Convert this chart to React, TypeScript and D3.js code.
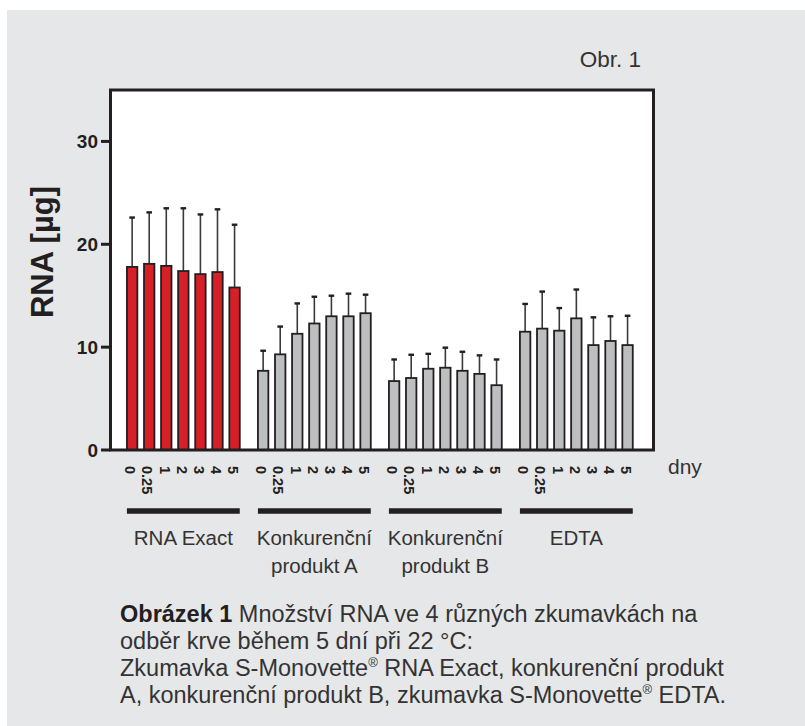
import React from "react";
import * as d3 from "d3";

const groups = ["RNA Exact", "Konkurenční produkt A", "Konkurenční produkt B", "EDTA"];
const groupLabelLines = [["RNA Exact"], ["Konkurenční", "produkt A"], ["Konkurenční", "produkt B"], ["EDTA"]];
const days = ["0", "0.25", "1", "2", "3", "4", "5"];

const rnaExactMean = [17.8, 18.1, 17.9, 17.4, 17.1, 17.3, 15.8];
const rnaExactSd = [4.8, 5.0, 5.6, 6.1, 5.8, 6.1, 6.1];
const prodAMean = [7.7, 9.3, 11.3, 12.3, 13.0, 13.0, 13.3];
const prodASd = [1.95, 2.7, 2.95, 2.6, 2.0, 2.2, 1.8];
const prodBMean = [6.7, 7.0, 7.9, 8.0, 7.7, 7.4, 6.3];
const prodBSd = [2.1, 2.26, 1.45, 1.95, 1.85, 1.8, 2.5];
const edtaMean = [11.5, 11.8, 11.6, 12.8, 10.2, 10.6, 10.2];
const edtaSd = [2.7, 3.6, 2.2, 2.8, 2.7, 2.4, 2.85];

const yTicks = [0, 10, 20, 30];

const means = [rnaExactMean, prodAMean, prodBMean, edtaMean];
const sds = [rnaExactSd, prodASd, prodBSd, edtaSd];

const W = 805;
const H = 726;
const frame = { left: 110.5, right: 653.5, top: 90, bottom: 450 };
const INK = "#231f20";
const TEXT = "#333333";
const FONT = "'Liberation Sans', Arial, Helvetica, sans-serif";

export default function App() {
  const y = d3.scaleLinear().domain([0, 35]).range([frame.bottom, frame.top]);
  const xGroup = d3.scaleBand<string>().domain(groups).range([123.6, 123.6 + 4 * 131]).padding(0);
  const xDay = d3
    .scaleBand<string>()
    .domain(days)
    .range([0, 119.5])
    .paddingInner(0.39)
    .paddingOuter(0.195);
  const bw = xDay.bandwidth();

  const bars = groups.flatMap((g, gi) =>
    days.map((d, di) => {
      const x0 = (xGroup(g) as number) + (xDay(d) as number);
      return { g, gi, d, di, x0, cx: x0 + bw / 2, v: means[gi][di], sd: sds[gi][di] };
    })
  );

  return (
    <svg
      width={W}
      height={H}
      style={{ position: "absolute", left: 0, top: 0, background: "#ffffff" }}
      fontFamily={FONT}
    >
      <rect x={7} y={10} width={W - 7} height={H - 10} fill="#e6e7e8" />
      <text x={641} y={67} textAnchor="end" fontSize={22.5} fill={TEXT}>
        Obr. 1
      </text>

      {/* plot area */}
      <rect
        x={frame.left}
        y={frame.top}
        width={frame.right - frame.left}
        height={frame.bottom - frame.top}
        fill="#ffffff"
      />

      {/* bars */}
      {bars.map((b) => (
        <g key={b.g + b.d}>
          <line
            x1={b.cx}
            x2={b.cx}
            y1={y(b.v)}
            y2={y(b.v + b.sd)}
            stroke="#3a3a3a"
            strokeWidth={1.6}
          />
          <line
            x1={b.cx - 2.8}
            x2={b.cx + 2.8}
            y1={y(b.v + b.sd)}
            y2={y(b.v + b.sd)}
            stroke={INK}
            strokeWidth={2.4}
          />
          <rect
            x={b.x0}
            y={y(b.v)}
            width={bw}
            height={y(0) - y(b.v)}
            fill={b.gi === 0 ? "#d71f27" : "#bcbec0"}
            stroke={INK}
            strokeWidth={1.8}
          />
        </g>
      ))}

      {/* frame */}
      <rect
        x={frame.left}
        y={frame.top}
        width={frame.right - frame.left}
        height={frame.bottom - frame.top}
        fill="none"
        stroke={INK}
        strokeWidth={3}
      />

      {/* y ticks */}
      {yTicks.map((t) => (
        <g key={t}>
          <line x1={101} x2={frame.left} y1={y(t)} y2={y(t)} stroke={INK} strokeWidth={3} />
          <text
            x={98}
            y={y(t)}
            dy="0.36em"
            textAnchor="end"
            fontSize={19}
            fontWeight="bold"
            fill={INK}
          >
            {t}
          </text>
        </g>
      ))}

      <text
        transform={`translate(53,252) rotate(-90)`}
        textAnchor="middle"
        fontSize={31}
        fontWeight="bold"
        fill={INK}
      >
        RNA [µg]
      </text>

      {/* x tick labels (rotated) */}
      {bars.map((b) => (
        <text
          key={"l" + b.g + b.d}
          transform={`translate(${b.cx - 1.5},466) rotate(90)`}
          dy="0.36em"
          textAnchor="start"
          fontSize={14.5}
          fontWeight="bold"
          fill={INK}
        >
          {b.d}
        </text>
      ))}

      <text x={668} y={474} fontSize={21} fill={TEXT}>
        dny
      </text>

      {/* group underlines and labels */}
      {groups.map((g, gi) => {
        const x1 = (xGroup(g) as number) + (xDay(days[0]) as number);
        const x2 = (xGroup(g) as number) + (xDay(days[days.length - 1]) as number) + bw;
        const cx = (x1 + x2) / 2;
        return (
          <g key={"g" + g}>
            <line x1={x1} x2={x2} y1={511} y2={511} stroke={INK} strokeWidth={5.5} />
            {groupLabelLines[gi].map((ln, li) => (
              <text
                key={ln}
                x={cx}
                y={545 + li * 27.5}
                textAnchor="middle"
                fontSize={20.5}
                fill={TEXT}
              >
                {ln}
              </text>
            ))}
          </g>
        );
      })}

      {/* caption */}
      <g fontSize={23.5} fill={TEXT}>
        <text x={120} y={622}>
          <tspan fontWeight="bold" fill={INK}>Obrázek 1</tspan>
          <tspan> Množství RNA ve 4 různých zkumavkách na</tspan>
        </text>
        <text x={120} y={649}>
          odběr krve během 5 dní při 22 °C:
        </text>
        <text x={120} y={676}>
          Zkumavka S-Monovette
          <tspan fontSize={13} dy={-9}>®</tspan>
          <tspan dy={9}> RNA Exact, konkurenční produkt</tspan>
        </text>
        <text x={120} y={703}>
          A, konkurenční produkt B, zkumavka S-Monovette
          <tspan fontSize={13} dy={-9}>®</tspan>
          <tspan dy={9}> EDTA.</tspan>
        </text>
      </g>
    </svg>
  );
}
